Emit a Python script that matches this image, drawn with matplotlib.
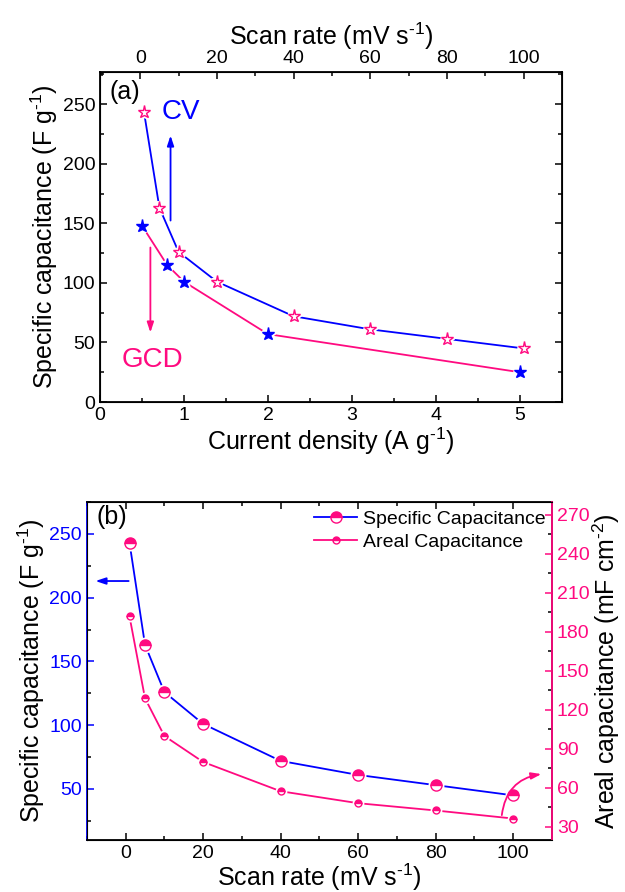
import numpy as np
import matplotlib
matplotlib.use('Agg')
import matplotlib.pyplot as plt
from matplotlib.ticker import MultipleLocator

plt.rcParams['font.family'] = ['Liberation Sans', 'DejaVu Sans']
plt.rcParams['mathtext.fontset'] = 'custom'
plt.rcParams['mathtext.rm'] = 'Liberation Sans'
plt.rcParams['mathtext.default'] = 'regular'

BLUE = '#0000ff'
PINK = '#ff0a80'

# (a) GCD: current density vs specific capacitance
gcd_current = [0.5, 0.8, 1, 2, 5]
gcd_cap = [148, 115, 101, 57, 25]
# (a) CV / (b): scan rate vs capacitance
scan_rate = [1, 5, 10, 20, 40, 60, 80, 100]
cv_cap = [243, 163, 126, 101, 72, 61, 53, 45]
areal_cap = [192, 129, 100, 80, 57.5, 48.3, 42.7, 36.5]

fig = plt.figure(figsize=(6.25, 8.92), dpi=100)

LAB = 18
SUP1 = r'$^{\text{-}1}$'
SUP2 = r'$^{\text{-}2}$'

def style_ticks(ax, **kw):
    ax.tick_params(which='both', direction='in', labelsize=14, width=1.1, **kw)
    ax.tick_params(which='major', length=5)
    ax.tick_params(which='minor', length=3)

def halo_plot(ax, x, y, lc, marker, ms, mfc, mec, fillstyle='full', mfa='white', z=3):
    # linea, luego un halo blanco (hueco tipo Origin) y el marcador encima
    ax.plot(x, y, '-', color=lc, lw=1.3, zorder=z)
    ax.plot(x, y, ls='none', marker=marker, ms=ms, mfc='white', mec='white', mew=3.5, zorder=z + 1)
    ax.plot(x, y, ls='none', marker=marker, ms=ms, mfc=mfc, mec=mec, mew=1.0,
            fillstyle=fillstyle, markerfacecoloralt=mfa, zorder=z + 2)

# ---------------- panel (a) ----------------
ax1 = fig.add_axes([0.16, 0.5493, 0.739, 0.37])
ax1.set_xlim(0, 5.5)
ax1.set_ylim(0, 277)
ax1.xaxis.set_major_locator(MultipleLocator(1))
ax1.xaxis.set_minor_locator(MultipleLocator(0.5))
ax1.yaxis.set_major_locator(MultipleLocator(50))
ax1.yaxis.set_minor_locator(MultipleLocator(25))
style_ticks(ax1, right=True)
for s in ax1.spines.values():
    s.set_linewidth(1.3)
ax1.set_xlabel('Current density (A g' + SUP1 + ')', fontsize=LAB, labelpad=1)
ax1.set_ylabel('Specific capacitance (F g' + SUP1 + ')', fontsize=LAB, labelpad=2)
halo_plot(ax1, gcd_current, gcd_cap, PINK, '*', 9.5, BLUE, BLUE)

ax1t = ax1.twiny()
ax1t.set_xlim(-10.5, 110)
ax1t.xaxis.set_major_locator(MultipleLocator(20))
ax1t.xaxis.set_minor_locator(MultipleLocator(10))
style_ticks(ax1t)
ax1t.set_xlabel('Scan rate (mV s' + SUP1 + ')', fontsize=LAB, labelpad=4)
halo_plot(ax1t, scan_rate, cv_cap, BLUE, '*', 9.5, 'white', PINK)

ax1.text(0.02, 0.975, '(a)', transform=ax1.transAxes, fontsize=LAB, va='top', ha='left')
ax1.text(0.96, 243, 'CV', color=BLUE, fontsize=20, ha='center', va='center')
ax1.text(0.62, 35, 'GCD', color=PINK, fontsize=20, ha='center', va='center')
ax1.annotate('', xy=(0.84, 226), xytext=(0.84, 150),
             arrowprops=dict(arrowstyle='-|>,head_length=0.6,head_width=0.2', color=BLUE, lw=1.3))
ax1.annotate('', xy=(0.6, 56), xytext=(0.6, 132),
             arrowprops=dict(arrowstyle='-|>,head_length=0.6,head_width=0.2', color=PINK, lw=1.3))

# ---------------- panel (b) ----------------
ax2 = fig.add_axes([0.139, 0.0583, 0.744, 0.379])
ax2.set_xlim(-10, 110)
ax2.set_ylim(10, 275)
ax2.xaxis.set_major_locator(MultipleLocator(20))
ax2.xaxis.set_minor_locator(MultipleLocator(10))
ax2.yaxis.set_major_locator(MultipleLocator(50))
ax2.yaxis.set_minor_locator(MultipleLocator(25))
style_ticks(ax2, top=True)
ax2.tick_params(axis='y', colors=BLUE)
for s in ax2.spines.values():
    s.set_linewidth(1.3)
ax2.spines['left'].set_color(BLUE)
ax2.set_xlabel('Scan rate (mV s' + SUP1 + ')', fontsize=LAB, labelpad=0)
ax2.set_ylabel('Specific capacitance (F g' + SUP1 + ')', fontsize=LAB, labelpad=2)

ax2r = ax2.twinx()
ax2r.set_ylim(20, 280)
ax2r.yaxis.set_major_locator(MultipleLocator(30))
ax2r.yaxis.set_minor_locator(MultipleLocator(15))
style_ticks(ax2r)
ax2r.tick_params(axis='y', colors=PINK)
ax2r.spines['right'].set_color(PINK)
ax2r.spines['right'].set_linewidth(1.3)
ax2r.set_ylabel('Areal capacitance (mF cm' + SUP2 + ')', fontsize=LAB, labelpad=1)

halo_plot(ax2, scan_rate, cv_cap, BLUE, 'o', 8, PINK, PINK, fillstyle='top', z=5)
halo_plot(ax2r, scan_rate, areal_cap, PINK, 'o', 5, PINK, PINK, fillstyle='top', z=5)

h1, = ax2.plot([], [], '-', color=BLUE, lw=1.3, marker='o', ms=8, mfc=PINK, mec=PINK,
               fillstyle='top', markerfacecoloralt='white')
h2, = ax2.plot([], [], '-', color=PINK, lw=1.3, marker='o', ms=5, mfc=PINK, mec=PINK,
               fillstyle='top', markerfacecoloralt='white')
ax2r.legend([h1, h2], ['Specific Capacitance', 'Areal Capacitance'], loc='upper left',
            bbox_to_anchor=(0.46, 1.015), frameon=False, fontsize=14, handlelength=2.2,
            handletextpad=0.3, labelspacing=0.25, borderpad=0.2)

ax2.text(0.02, 0.99, '(b)', transform=ax2.transAxes, fontsize=LAB, va='top', ha='left')
ax2.annotate('', xy=(-8.5, 213), xytext=(1.5, 213),
             arrowprops=dict(arrowstyle='-|>,head_length=0.6,head_width=0.2', color=BLUE, lw=1.3))
ax2r.annotate('', xy=(108, 71), xytext=(97, 37),
              arrowprops=dict(arrowstyle='-|>,head_length=0.6,head_width=0.2', color=PINK, lw=1.3,
                              connectionstyle='arc3,rad=-0.4'))

fig.savefig('out.png', dpi=100)
